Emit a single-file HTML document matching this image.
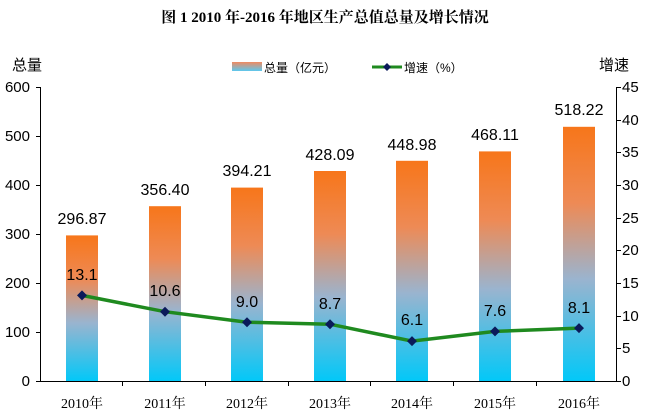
<!DOCTYPE html>
<html><head><meta charset="utf-8"><style>
body{margin:0;background:#fff;}
svg{display:block;font-family:"Liberation Sans","Noto Sans CJK SC",sans-serif;}
</style></head><body>
<svg width="651" height="416" viewBox="0 0 651 416">
<defs>
<linearGradient id="g" x1="0" y1="0" x2="0" y2="1">
<stop offset="0" stop-color="#f7761a"/>
<stop offset="0.3" stop-color="#ee8a55"/>
<stop offset="0.6" stop-color="#9ab4cf"/>
<stop offset="1" stop-color="#02c8f8"/>
</linearGradient>
<linearGradient id="lg" x1="0" y1="0" x2="0" y2="1">
<stop offset="0" stop-color="#f08a60"/><stop offset="1" stop-color="#5cc8ef"/>
</linearGradient>
</defs>
<text x="325" y="22" text-anchor="middle" font-family="Liberation Serif,'Noto Serif CJK SC',serif" font-weight="bold" font-size="15">图 1 2010 年-2016 年地区生产总值总量及增长情况</text>
<text x="12" y="70" font-size="15">总量</text>
<text x="599" y="70" font-size="15">增速</text>
<rect x="232" y="62" width="30" height="9" fill="url(#lg)"/>
<text x="264" y="72" font-size="12">总量（亿元）</text>
<line x1="372" y1="67" x2="402" y2="67" stroke="#1f8a1f" stroke-width="3"/>
<polygon points="387,63 391,67 387,71 383,67" fill="#0a1a5a"/>
<text x="404" y="72" font-size="12">增速（%）</text>
<g font-size="15" fill="#000">
<g text-anchor="end">
<text x="30" y="386">0</text><text x="30" y="337">100</text><text x="30" y="288">200</text><text x="30" y="239">300</text><text x="30" y="190">400</text><text x="30" y="141">500</text><text x="30" y="92">600</text>
</g>
<g text-anchor="start">
<text x="622" y="386">0</text><text x="622" y="353">5</text><text x="622" y="321">10</text><text x="622" y="288">15</text><text x="622" y="255">20</text><text x="622" y="223">25</text><text x="622" y="190">30</text><text x="622" y="157">35</text><text x="622" y="125">40</text><text x="622" y="92">45</text>
</g>
</g>
<g id="bars">
<rect x="66" y="235.4" width="32" height="145.6" fill="url(#g)"/>
<rect x="149" y="206.2" width="32" height="174.8" fill="url(#g)"/>
<rect x="231" y="187.6" width="32" height="193.4" fill="url(#g)"/>
<rect x="314" y="171" width="32" height="210" fill="url(#g)"/>
<rect x="396" y="160.8" width="32" height="220.2" fill="url(#g)"/>
<rect x="479" y="151.4" width="32" height="229.6" fill="url(#g)"/>
<rect x="563" y="126.8" width="32" height="254.2" fill="url(#g)"/>
</g>
<g stroke="#000" stroke-width="1" fill="none">
<line x1="40.5" y1="87" x2="40.5" y2="381"/>
<line x1="616.5" y1="87" x2="616.5" y2="381"/>
<line x1="40" y1="381.5" x2="617" y2="381.5"/>
<path d="M36 87.5H40M36 136.5H40M36 185.5H40M36 234.5H40M36 283.5H40M36 332.5H40M36 381.5H40"/>
<path d="M617 87.5H621M617 120.5H621M617 152.5H621M617 185.5H621M617 218.5H621M617 250.5H621M617 283.5H621M617 316.5H621M617 348.5H621M617 381.5H621"/>
<path d="M122.5 381V386M205.5 381V386M288.5 381V386M370.5 381V386M453.5 381V386M536.5 381V386"/>
</g>
<polyline points="82,295.4 165,311.7 247,322.2 330,324.2 412,341.1 495,331.4 579,328.1" fill="none" stroke="#1f8a1f" stroke-width="3.5"/>
<g fill="#0a1a5a">
<polygon points="82,290.4 87,295.4 82,300.4 77,295.4"/>
<polygon points="165,306.7 170,311.7 165,316.7 160,311.7"/>
<polygon points="247,317.2 252,322.2 247,327.2 242,322.2"/>
<polygon points="330,319.2 335,324.2 330,329.2 325,324.2"/>
<polygon points="412,336.1 417,341.1 412,346.1 407,341.1"/>
<polygon points="495,326.4 500,331.4 495,336.4 490,331.4"/>
<polygon points="579,323.1 584,328.1 579,333.1 574,328.1"/>
</g>
<g font-size="16" text-anchor="middle">
<text x="82" y="224">296.87</text><text x="165" y="195">356.40</text><text x="247" y="176">394.21</text><text x="330" y="160">428.09</text><text x="412" y="150">448.98</text><text x="495" y="140">468.11</text><text x="579" y="115">518.22</text>
<text x="82" y="280">13.1</text><text x="165" y="296">10.6</text><text x="247" y="307">9.0</text><text x="330" y="309">8.7</text><text x="412" y="325">6.1</text><text x="495" y="316">7.6</text><text x="579" y="313">8.1</text>
</g>
<g font-size="14" text-anchor="middle" font-family="Liberation Serif,'Noto Serif CJK SC',serif">
<text x="82" y="408">2010年</text><text x="165" y="408">2011年</text><text x="247" y="408">2012年</text><text x="330" y="408">2013年</text><text x="412" y="408">2014年</text><text x="495" y="408">2015年</text><text x="579" y="408">2016年</text>
</g>
</svg>
</body></html>
